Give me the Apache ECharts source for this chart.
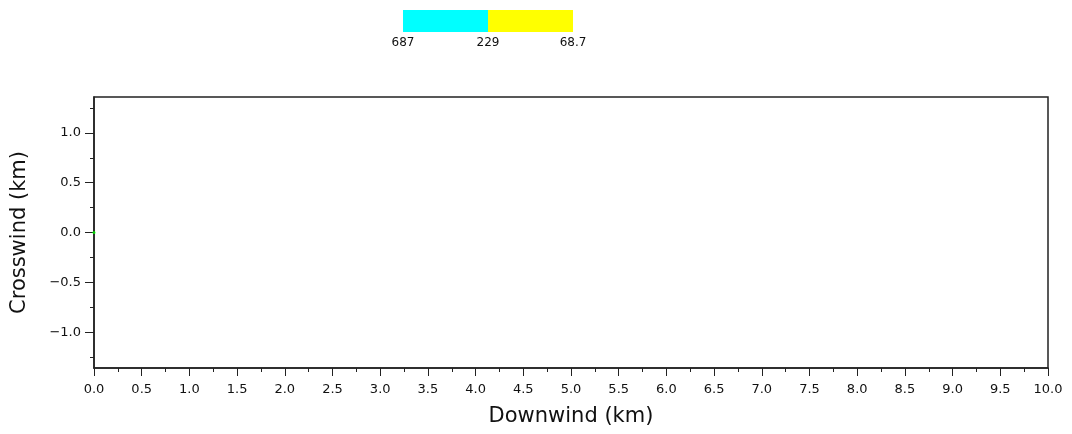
<!DOCTYPE html>
<html>
<head>
<meta charset="utf-8">
<script src="https://cdn.jsdelivr.net/npm/echarts@6/dist/echarts.min.js"></script>
<style>
html,body{margin:0;padding:0;background:#fff;}
#c{width:1072px;height:434px;}
</style>
</head>
<body>
<div id="c"></div>
<script>
// ---- data ----
var legendLabels = ['687', '229', '68.7'];
var legendColors = ['#00ffff', '#ffff00'];
var xTicks = [0,0.5,1,1.5,2,2.5,3,3.5,4,4.5,5,5.5,6,6.5,7,7.5,8,8.5,9,9.5,10];
var yTicks = [-1.0,-0.5,0.0,0.5,1.0];
var yMinorTicks = [-1.25,-0.75,-0.25,0.25,0.75,1.25];
var sourcePoints = [[0, 0]];
var xRange = [0, 10];
var yRange = [-1.36, 1.36];

var chart = echarts.init(document.getElementById('c'), null, {renderer:'canvas'});
var font = 'DejaVu Sans';
function fmtY(v){ var s = Math.abs(v).toFixed(1); return v < 0 ? '\u2212' + s : s; }

// legend bar (color scale)
var barX = 403, barY = 10, segW = 85, segH = 22;
var graphics = [];
legendColors.forEach(function(c, i){
  graphics.push({type:'rect', left: barX + i*segW, top: barY, shape:{width:segW, height:segH}, style:{fill:c}, silent:true});
});
legendLabels.forEach(function(t, i){
  graphics.push({type:'text', x: barX + i*segW, y: 43, style:{text:t, fill:'#111', font:'12px "'+font+'"', align:'center', verticalAlign:'middle'}, silent:true});
});

var option = {
  backgroundColor:'#fff',
  animation:false,
  grid:{left:94, right:24, top:97, bottom:66, show:true, borderColor:'#222', borderWidth:1.5, backgroundColor:'transparent', outerBoundsMode:'none', containLabel:false},
  xAxis:{
    type:'value', min:xRange[0], max:xRange[1], interval:0.5,
    name:'Downwind (km)', nameLocation:'middle', nameGap:38,
    nameTextStyle:{fontFamily:font, fontSize:21, color:'#111'},
    axisLine:{show:true, onZero:false, lineStyle:{color:'#222', width:1.5}},
    axisTick:{show:true, length:8, lineStyle:{color:'#222'}},
    minorTick:{show:true, splitNumber:2, length:4, lineStyle:{color:'#222'}},
    axisLabel:{fontFamily:font, fontSize:13, color:'#111', margin:15, formatter:function(v){return v.toFixed(1);}},
    splitLine:{show:false}
  },
  yAxis:[{
    type:'value', min:yRange[0], max:yRange[1],
    name:'Crosswind (km)', nameLocation:'middle', nameGap:64,
    nameTextStyle:{fontFamily:font, fontSize:21, color:'#111'},
    axisLine:{show:true, onZero:false, lineStyle:{color:'#222', width:1.5}},
    axisTick:{show:true, length:9, customValues:yTicks, lineStyle:{color:'#222'}},
    axisLabel:{fontFamily:font, fontSize:13, color:'#111', margin:13, customValues:yTicks, formatter:fmtY},
    splitLine:{show:false}
  },{
    type:'value', min:yRange[0], max:yRange[1], position:'left', offset:0,
    axisLine:{show:false, onZero:false},
    axisTick:{show:true, length:4, customValues:yMinorTicks, lineStyle:{color:'#222'}},
    axisLabel:{show:false},
    splitLine:{show:false}
  }],
  graphic:graphics,
  series:[{
    type:'scatter', data:sourcePoints, symbolSize:3, itemStyle:{color:'#00ff00'}, z:10, yAxisIndex:0
  }]
};
chart.setOption(option);
</script>
</body>
</html>
